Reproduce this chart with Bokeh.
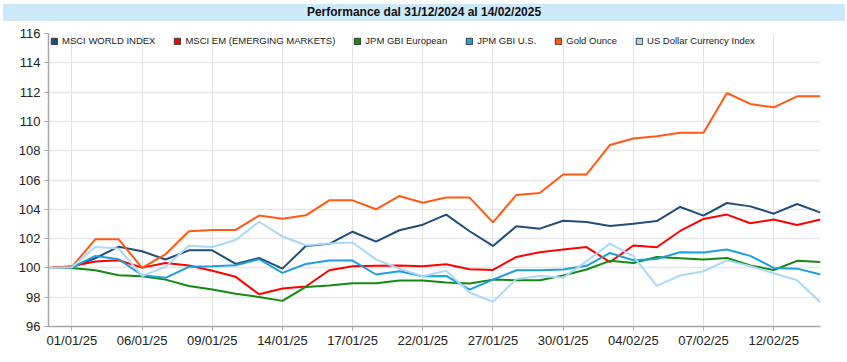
from bokeh.plotting import figure
from bokeh.models import Div, Range1d, FixedTicker, Legend, LegendItem, ColumnDataSource
from bokeh.layouts import column
from bokeh.embed import file_html
from bokeh.resources import INLINE

title_text = "Performance dal 31/12/2024 al 14/02/2025"

dates = ["31/12/24", "01/01/25", "02/01/25", "03/01/25", "06/01/25", "07/01/25", "08/01/25",
         "09/01/25", "10/01/25", "13/01/25", "14/01/25", "15/01/25", "16/01/25", "17/01/25",
         "20/01/25", "21/01/25", "22/01/25", "23/01/25", "24/01/25", "27/01/25", "28/01/25",
         "29/01/25", "30/01/25", "31/01/25", "03/02/25", "04/02/25", "05/02/25", "06/02/25",
         "07/02/25", "10/02/25", "11/02/25", "12/02/25", "13/02/25", "14/02/25"]

tick_dates = ["01/01/25", "06/01/25", "09/01/25", "14/01/25", "17/01/25", "22/01/25",
              "27/01/25", "30/01/25", "04/02/25", "07/02/25", "12/02/25"]

y_ticks = [96, 98, 100, 102, 104, 106, 108, 110, 112, 114, 116]

series_names = ["MSCI WORLD INDEX", "MSCI EM (EMERGING MARKETS)", "JPM GBI European",
                "JPM GBI U.S.", "Gold Ounce", "US Dollar Currency Index"]

msci_world = [100, 100.05, 100.66, 101.45, 101.14, 100.57, 101.2, 101.2, 100.27, 100.68,
              99.95, 101.5, 101.64, 102.47, 101.79, 102.57, 102.95, 103.64, 102.5, 101.5,
              102.84, 102.68, 103.22, 103.14, 102.86, 103.02, 103.2, 104.16, 103.57, 104.43,
              104.2, 103.7, 104.36, 103.77]

msci_em = [100, 100.11, 100.43, 100.52, 100.02, 100.34, 100.16, 99.8, 99.39, 98.2,
           98.59, 98.73, 99.84, 100.11, 100.14, 100.16, 100.11, 100.25, 99.91, 99.86,
           100.75, 101.07, 101.26, 101.42, 100.4, 101.53, 101.41, 102.52, 103.34, 103.64,
           103.05, 103.3, 102.93, 103.3]

jpm_eur = [100, 100, 99.84, 99.5, 99.43, 99.2, 98.77, 98.52, 98.23, 98.02,
           97.75, 98.7, 98.8, 98.95, 98.95, 99.14, 99.14, 99.0, 98.93, 99.2,
           99.16, 99.16, 99.48, 99.89, 100.48, 100.34, 100.75, 100.66, 100.57, 100.68,
           100.16, 99.86, 100.48, 100.41]

jpm_us = [100, 100.02, 100.82, 100.59, 99.5, 99.32, 100.07, 100.11, 100.18, 100.59,
          99.66, 100.27, 100.5, 100.5, 99.55, 99.77, 99.43, 99.45, 98.52, 99.2,
          99.84, 99.84, 99.89, 100.14, 101.02, 100.52, 100.61, 101.07, 101.05, 101.25,
          100.82, 100.0, 99.95, 99.55]

gold = [100, 100.07, 101.95, 101.95, 100.0, 100.93, 102.5, 102.59, 102.59, 103.57,
        103.36, 103.59, 104.61, 104.61, 104.0, 104.91, 104.45, 104.8, 104.8, 103.11,
        104.98, 105.11, 106.38, 106.38, 108.39, 108.83, 108.99, 109.22, 109.22, 111.94,
        111.19, 110.96, 111.71, 111.71]

usd = [100, 100.05, 101.43, 101.32, 99.45, 100.07, 101.52, 101.43, 101.9, 103.15,
       102.14, 101.55, 101.66, 101.73, 100.57, 99.95, 99.43, 99.8, 98.32, 97.68,
       99.25, 99.45, 99.34, 100.45, 101.66, 100.8, 98.77, 99.48, 99.77, 100.52,
       100.11, 99.64, 99.16, 97.64]

colors = ["#1f4e79", "#ff0000", "#148a14", "#1e9fdc", "#ff5a14", "#aad8f7"]
all_series = [msci_world, msci_em, jpm_eur, jpm_us, gold, usd]

FONT = "Liberation Sans"

x_idx = list(range(len(dates)))
tick_idx = [dates.index(d) for d in tick_dates]

div = Div(text=title_text, width=842, height=17, margin=(4, 0, 0, 3),
          styles={"background-color": "#cde8f9", "text-align": "center",
                  "font-family": "'Liberation Sans', Arial, sans-serif",
                  "font-weight": "bold", "font-size": "12px", "line-height": "17px",
                  "color": "#111111"})

p = figure(width=839, height=333, output_backend="svg", toolbar_location=None,
           x_range=Range1d(0, len(dates) - 1), y_range=Range1d(96, 116),
           min_border_left=48, min_border_right=19, min_border_top=12, min_border_bottom=28)
p.outline_line_color = None
p.background_fill_color = "white"
p.border_fill_color = "white"

p.xaxis.ticker = FixedTicker(ticks=tick_idx)
p.xaxis.major_label_overrides = {i: d for i, d in zip(tick_idx, tick_dates)}
p.yaxis.ticker = FixedTicker(ticks=y_ticks)

for ax in (p.xaxis[0], p.yaxis[0]):
    ax.axis_line_color = "#a6a6a6"
    ax.axis_line_width = 1.5
    ax.major_tick_line_color = "#a6a6a6"
    ax.major_tick_in = 0
    ax.minor_tick_line_color = None
    ax.major_label_text_font = FONT
    ax.major_label_text_font_size = "13px"
    ax.major_label_text_color = "#222222"
p.xaxis.major_tick_out = 4
p.yaxis.major_tick_out = 4
p.xaxis.major_label_standoff = 2
p.yaxis.major_label_standoff = 4

p.xgrid.grid_line_color = "#e2e2e2"
p.xgrid.grid_line_width = 1
p.ygrid.grid_line_color = "#e6e6e6"
p.ygrid.grid_line_width = 1.5

items = []
for name, vals, c in zip(series_names, all_series, colors):
    src = ColumnDataSource(dict(x=x_idx, y=vals))
    p.line("x", "y", source=src, line_color=c, line_width=2)
    # legend proxy: hidden quad renderer, only its legend glyph (a square) is shown
    sq = p.quad(left="x", right="x", top="y", bottom="y", source=src,
                fill_color=c, line_color="#3a3a3a", line_width=1, visible=False)
    items.append(LegendItem(label=name, renderers=[sq]))

legend = Legend(items=items, location="top_left", orientation="horizontal",
                background_fill_alpha=0, border_line_color=None,
                glyph_width=8, glyph_height=8, label_standoff=4, spacing=18,
                padding=4, margin=2, click_policy="none",
                inactive_fill_alpha=0,
                label_text_font=FONT, label_text_font_size="9.5px",
                label_text_color="#222222")
p.add_layout(legend)

layout = column(div, p, spacing=0)

open("out.html", "w").write(file_html(layout, INLINE))
